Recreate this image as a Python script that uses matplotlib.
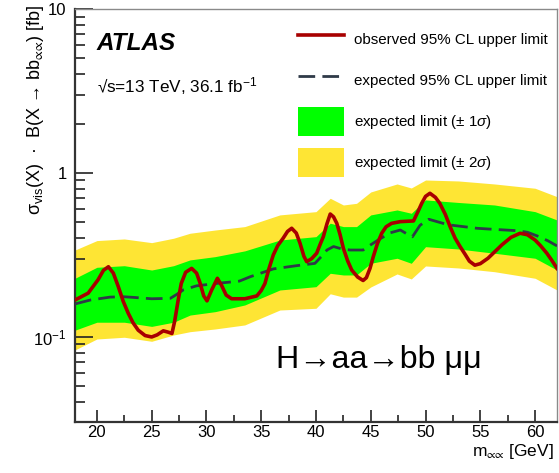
import matplotlib
matplotlib.use("Agg")
import matplotlib.pyplot as plt
from matplotlib.lines import Line2D
from matplotlib.patches import Patch
from matplotlib.ticker import FixedLocator, NullFormatter, LogLocator, MultipleLocator

plt.rcParams['font.family'] = ['Liberation Sans', 'DejaVu Sans']
plt.rcParams['mathtext.fontset'] = 'custom'
plt.rcParams['mathtext.rm'] = 'Liberation Sans'
plt.rcParams['mathtext.it'] = 'Liberation Sans:italic'
plt.rcParams['mathtext.bf'] = 'Liberation Sans:bold'

# Expected-limit bands (mass grid in GeV, limits in fb)
band_mass = [18, 20, 22.5, 25, 27, 28.5, 30.8, 33.5, 36.7, 40, 41.3, 42.5, 43.7,
             45, 47.4, 48.7, 50, 53, 56.3, 60, 62]
band_2s_up = [0.339, 0.387, 0.396, 0.376, 0.400, 0.429, 0.449, 0.471, 0.555, 0.581, 0.701,
              0.638, 0.653, 0.766, 0.857, 0.810, 0.906, 0.894, 0.857, 0.807, 0.717]
band_1s_up = [0.228, 0.266, 0.272, 0.256, 0.272, 0.295, 0.309, 0.335, 0.390, 0.409, 0.494,
              0.471, 0.471, 0.555, 0.595, 0.568, 0.685, 0.661, 0.638, 0.581, 0.517]
band_1s_dn = [0.110, 0.123, 0.123, 0.116, 0.123, 0.136, 0.1427, 0.1567, 0.1934, 0.2026, 0.2445,
              0.2388, 0.2388, 0.2814, 0.302, 0.2814, 0.3553, 0.344, 0.324, 0.302, 0.256]
band_2s_dn = [0.0834, 0.0972, 0.0996, 0.0941, 0.1028, 0.1077, 0.1119, 0.1184, 0.146, 0.1496, 0.1834,
              0.175, 0.175, 0.2018, 0.2422, 0.2258, 0.271, 0.2635, 0.250, 0.228, 0.1934]

# Expected median limit
exp_mass = [18.0, 19.4, 21.2, 22.4, 23.5, 25.0, 26.7, 27.3, 27.9, 29.1, 30.9, 33.0, 34.0,
            36.1, 38.2, 39.9, 40.5, 41.0, 41.6, 42.3, 43.1, 44.3, 45.0, 45.8, 46.8, 47.7,
            48.3, 48.8, 49.5, 50.3, 51.6, 52.2, 54.7, 56.5, 58.3, 59.3, 60.2, 61.2, 62.0]
exp_limit = [0.159, 0.168, 0.175, 0.176, 0.174, 0.171, 0.172, 0.182, 0.194, 0.205, 0.212, 0.219, 0.233,
             0.260, 0.272, 0.281, 0.310, 0.339, 0.356, 0.345, 0.339, 0.339, 0.365, 0.395, 0.432, 0.449,
             0.425, 0.408, 0.480, 0.522, 0.493, 0.482, 0.460, 0.452, 0.445, 0.435, 0.413, 0.385, 0.359]

# Observed limit
obs_mass = [18.0, 19.2, 20.1, 20.6, 21.05, 21.5, 21.95, 22.4, 22.86, 23.3, 23.77, 24.4, 25.0,
            25.5, 26.06, 26.5, 26.85, 27.1, 27.4, 27.7, 28.1, 28.65, 29.1, 29.4, 29.75, 30.05,
            30.5, 31.0, 31.4, 31.8, 32.3, 33.5, 34.6, 35.0, 35.34, 35.7, 36.1, 36.5, 37.0, 37.4,
            37.78, 38.2, 38.54, 38.9, 39.15, 39.6, 40.06, 40.4, 40.67, 41.0, 41.3, 41.6, 41.9,
            42.2, 42.5, 42.9, 43.26, 43.8, 44.3, 44.6, 44.93, 45.23, 45.6, 46.0, 46.4, 46.9,
            47.7, 48.9, 49.3, 49.65, 50.0, 50.4, 50.9, 51.3, 51.8, 52.24, 52.7, 53.15, 53.6,
            54.0, 54.5, 55.0, 55.7, 56.3, 56.96, 57.8, 58.63, 59.3, 60.0, 60.5, 61.07, 61.5, 62.0]
obs_limit = [0.168, 0.185, 0.223, 0.255, 0.268, 0.245, 0.203, 0.165, 0.1395, 0.122, 0.110, 0.102, 0.100,
             0.103, 0.109, 0.107, 0.105, 0.125, 0.165, 0.212, 0.248, 0.262, 0.245, 0.215, 0.178, 0.166,
             0.195, 0.228, 0.205, 0.180, 0.171, 0.171, 0.178, 0.192, 0.212, 0.260, 0.316, 0.360, 0.400, 0.440,
             0.460, 0.430, 0.373, 0.310, 0.288, 0.300, 0.324, 0.370, 0.409, 0.490, 0.562, 0.540, 0.493,
             0.420, 0.347, 0.290, 0.256, 0.232, 0.221, 0.230, 0.262, 0.309, 0.370, 0.429, 0.470, 0.493,
             0.505, 0.510, 0.580, 0.653, 0.720, 0.752, 0.710, 0.653, 0.560, 0.471, 0.400, 0.356, 0.320,
             0.290, 0.274, 0.280, 0.302, 0.330, 0.364, 0.405, 0.429, 0.420, 0.390, 0.360, 0.324, 0.295, 0.262]

x_ticks = [20, 25, 30, 35, 40, 45, 50, 55, 60]
y_ticks = [0.1, 1, 10]
y_ticklabels = [r'$10^{-1}$', '1', '10']

GREEN = '#00ff00'
YELLOW = '#fee534'
RED = '#a80000'
DASH = '#2f3a48'

fig = plt.figure(figsize=(5.59, 4.73), dpi=100)
ax = fig.add_axes([75 / 559, 1 - 422 / 473, 482 / 559, 413 / 473])

ax.fill_between(band_mass, band_2s_dn, band_2s_up, color=YELLOW, lw=0, zorder=1)
ax.fill_between(band_mass, band_1s_dn, band_1s_up, color=GREEN, lw=0, zorder=2)
ax.plot(exp_mass, exp_limit, color=DASH, lw=2.0, dashes=(6, 2.6), zorder=3)
ax.plot(obs_mass, obs_limit, color=RED, lw=2.6, zorder=4, solid_joinstyle='round')

ax.set_yscale('log')
ax.set_xlim(18, 62)
ax.set_ylim(0.0303, 10)

ax.xaxis.set_major_locator(FixedLocator(x_ticks))
ax.xaxis.set_minor_locator(MultipleLocator(2.5))
ax.yaxis.set_major_locator(FixedLocator(y_ticks))
ax.set_yticklabels(y_ticklabels)
ax.yaxis.set_minor_locator(LogLocator(base=10, subs=range(2, 10)))
ax.yaxis.set_minor_formatter(NullFormatter())

ax.tick_params(axis='both', which='both', direction='in', top=False, right=False,
               color='#222222', width=1.2)
ax.tick_params(axis='x', which='major', length=9, labelsize=12, pad=2)
ax.tick_params(axis='x', which='minor', length=5)
ax.tick_params(axis='y', which='major', length=13, labelsize=12, pad=6)
ax.tick_params(axis='y', which='minor', length=7)

for side in ('left', 'bottom'):
    ax.spines[side].set_color('#333333')
    ax.spines[side].set_linewidth(1.6)
for side in ('top', 'right'):
    ax.spines[side].set_color('#8a8a8a')
    ax.spines[side].set_linewidth(1.0)

handles = [Line2D([], [], color=RED, lw=2.6),
           Line2D([], [], color=DASH, lw=2.0, dashes=(6, 2.6)),
           Patch(facecolor=GREEN, edgecolor='none'),
           Patch(facecolor=YELLOW, edgecolor='none')]
labels = ['observed 95% CL upper limit', 'expected 95% CL upper limit',
          r'expected limit ($\pm$ 1$\sigma$)', r'expected limit ($\pm$ 2$\sigma$)']
fs = 10.9
fs_px = fs * 100 / 72
ax.legend(handles, labels, loc='upper left',
          bbox_to_anchor=((298 - 75) / 482, 1 - (25 - 9) / 413),
          frameon=False, fontsize=fs, borderpad=0, borderaxespad=0,
          handlelength=46 / fs_px, handleheight=28 / (0.72 * fs_px),
          labelspacing=12 / fs_px, handletextpad=10 / fs_px)

fig.text(97 / 559, 1 - 50 / 473, 'ATLAS', fontsize=17.5, fontweight='bold',
         fontstyle='italic', ha='left', va='baseline')
fig.text(97 / 559, 1 - 92 / 473, '\u221as=13 TeV, 36.1 fb$^{-1}$', fontsize=12.3,
         ha='left', va='baseline')
fig.text(276 / 559, 1 - 368 / 473, 'H\u2192aa\u2192bb \u03bc\u03bc', fontsize=23.2,
         ha='left', va='baseline')

fig.text(36 / 559, 1 - 5 / 473,
         '\u03c3$_{\\rm vis}$(X)  \u00b7  B(X \u2192 bb$_{\u221d\u221d}$) [fb]',
         rotation=90, fontsize=13, ha='center', va='top')
fig.text(554 / 559, 1 - 456 / 473, 'm$_{\u221d\u221d}$ [GeV]', fontsize=12.5,
         ha='right', va='baseline')

fig.savefig('out.png', dpi=100)
